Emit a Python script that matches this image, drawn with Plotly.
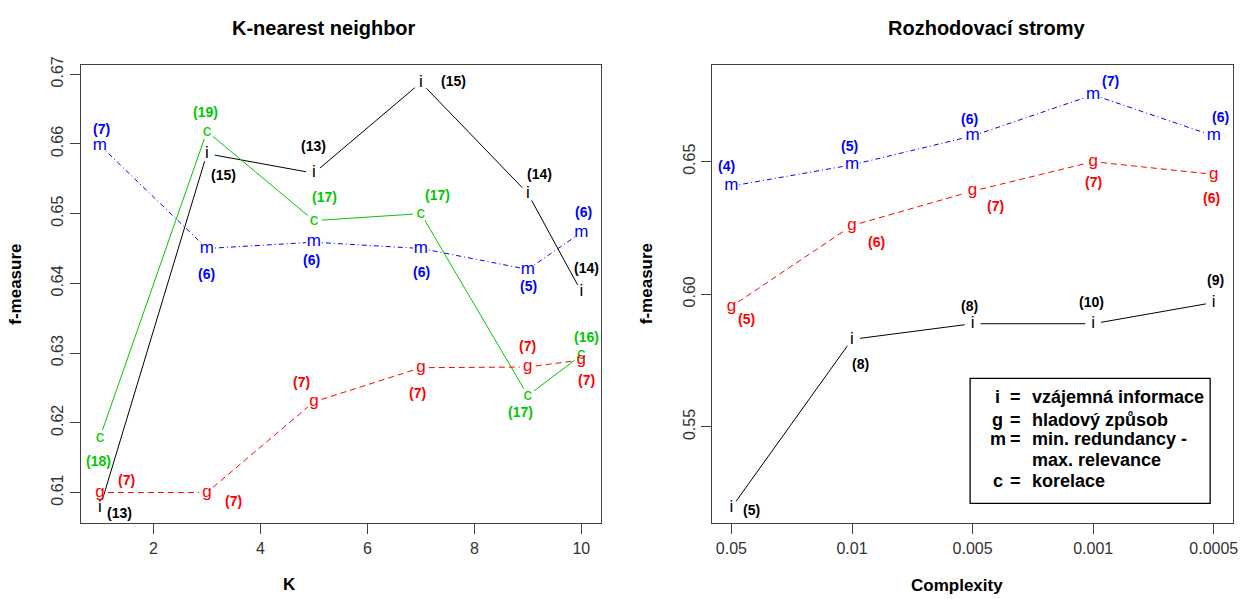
import math
import plotly.graph_objects as go

# ---------------- data ----------------
k_values = [1, 3, 5, 7, 9, 10]
knn_i = [0.6078, 0.6586, 0.6558, 0.6688, 0.6529, 0.6388]
knn_g = [0.6100, 0.6100, 0.6230, 0.6279, 0.6280, 0.6290]
knn_m = [0.6598, 0.6450, 0.6459, 0.6450, 0.6420, 0.6473]
knn_c = [0.6179, 0.6618, 0.6490, 0.6500, 0.6239, 0.6297]
knn_i_n = [13, 15, 13, 15, 14, 14]
knn_g_n = [7, 7, 7, 7, 7, 7]
knn_m_n = [7, 6, 6, 6, 5, 6]
knn_c_n = [18, 19, 17, 17, 17, 16]
knn_yticks = [0.61, 0.62, 0.63, 0.64, 0.65, 0.66, 0.67]
knn_xticks = [2, 4, 6, 8, 10]

complexity = ["0.05", "0.01", "0.005", "0.001", "0.0005"]
dt_pos = [1, 2, 3, 4, 5]
dt_i = [0.5195, 0.5830, 0.5889, 0.5889, 0.5969]
dt_g = [0.5954, 0.6259, 0.6389, 0.6500, 0.6452]
dt_m = [0.6408, 0.6488, 0.6597, 0.6752, 0.6597]
dt_i_n = [5, 8, 8, 10, 9]
dt_g_n = [5, 6, 7, 7, 6]
dt_m_n = [4, 5, 6, 7, 6]
dt_yticks = [0.55, 0.60, 0.65]
dt_ytext = ["0.55", "0.60", "0.65"]

legend_keys = ["i", "g", "m", "", "c"]
legend_eq = ["=", "=", "=", "", "="]
legend_texts = ["vzájemná informace", "hladový způsob", "min. redundancy -",
                "max. relevance", "korelace"]

# ---------------- label offsets (pixels: dx, dy up) ----------------
off_knn_i = [(20, -5), (17, -21), (0, 27), (33, 2), (12, 19), (5, 24)]
off_knn_c = [(-1, -24), (-1, 19), (11, 24), (17, 19), (-7, -16), (5, 18)]
off_knn_m = [(2, 16), (0, -26), (-2, -18), (1, -24), (1, -17), (2, 20)]
off_knn_g = [(27, 12), (27, -9), (-12, 20), (-3, -25), (0, 21), (5, -20)]
off_dt_m = [(-5, 20), (-3, 19), (-3, 17), (17, 14), (7, 19)]
off_dt_g = [(15, -13), (24, -16), (23, -15), (0, -20), (-2, -24)]
off_dt_i = [(20, -2), (8, -25), (-3, 18), (-2, 22), (2, 23)]

# ---------------- layout geometry ----------------
W, H = 1251, 599
LEFT = dict(px0=81, px1=603, py0=57, py1=522, xr=[0.64, 10.36], yr=[0.6056, 0.6713])
RIGHT = dict(px0=715, px1=1238, py0=57, py1=522, xr=[0.84, 5.16], yr=[0.5137, 0.6864])

BLACK, RED, BLUE, GREEN = "#000000", "#FF0000", "#0000FF", "#00C800"
SANS = "Liberation Sans, Arial, sans-serif"
FRAME = "#404040"


def gapped(xs, ys, panel, gap=8):
    sx = (panel["px1"] - panel["px0"]) / (panel["xr"][1] - panel["xr"][0])
    sy = (panel["py1"] - panel["py0"]) / (panel["yr"][1] - panel["yr"][0])
    ox, oy = [], []
    for (xa, ya), (xb, yb) in zip(zip(xs, ys), zip(xs[1:], ys[1:])):
        L = math.hypot((xb - xa) * sx, (yb - ya) * sy)
        if L <= 2 * gap:
            continue
        f = gap / L
        ox += [xa + (xb - xa) * f, xb - (xb - xa) * f, None]
        oy += [ya + (yb - ya) * f, yb - (yb - ya) * f, None]
    return ox, oy


fig = go.Figure()
annotations = []


def add_series(xs, ys, counts, offs, letter, color, dash, panel, xa, ya):
    gx, gy = gapped(xs, ys, panel)
    fig.add_trace(go.Scatter(x=gx, y=gy, mode="lines", xaxis=xa, yaxis=ya,
                             line=dict(color=color, width=1, dash=dash),
                             showlegend=False, hoverinfo="skip"))
    fig.add_trace(go.Scatter(x=xs, y=ys, mode="text", xaxis=xa, yaxis=ya,
                             text=[letter] * len(xs), textposition="middle center",
                             textfont=dict(family=SANS, size=17, color=color),
                             showlegend=False, hoverinfo="skip"))
    xref = "x" if xa == "x" else "x2"
    yref = "y" if ya == "y" else "y2"
    for x, y, n, (dx, dy) in zip(xs, ys, counts, offs):
        annotations.append(dict(x=x, y=y, xref=xref, yref=yref, text="<b>(%d)</b>" % n,
                                showarrow=False, xshift=dx, yshift=dy,
                                xanchor="center", yanchor="middle",
                                font=dict(family=SANS, size=14, color=color)))


add_series(k_values, knn_i, knn_i_n, off_knn_i, "i", BLACK, "solid", LEFT, "x", "y")
add_series(k_values, knn_c, knn_c_n, off_knn_c, "c", GREEN, "solid", LEFT, "x", "y")
add_series(k_values, knn_m, knn_m_n, off_knn_m, "m", BLUE, "1px,3px,5px,3px", LEFT, "x", "y")
add_series(k_values, knn_g, knn_g_n, off_knn_g, "g", RED, "6px,4px", LEFT, "x", "y")

add_series(dt_pos, dt_m, dt_m_n, off_dt_m, "m", BLUE, "1px,3px,5px,3px", RIGHT, "x2", "y2")
add_series(dt_pos, dt_g, dt_g_n, off_dt_g, "g", RED, "6px,4px", RIGHT, "x2", "y2")
add_series(dt_pos, dt_i, dt_i_n, off_dt_i, "i", BLACK, "solid", RIGHT, "x2", "y2")


def dom_x(p):
    return [p["px0"] / W, p["px1"] / W]


def dom_y(p):
    return [1 - p["py1"] / H, 1 - p["py0"] / H]


axis_common = dict(showgrid=False, zeroline=False, showline=True, mirror=True,
                   linecolor=FRAME, linewidth=1.3, ticks="outside", ticklen=10,
                   tickcolor=FRAME, tickwidth=1.3,
                   tickfont=dict(family=SANS, size=16, color="#333333"))

fig.update_layout(
    width=W, height=H, margin=dict(l=0, r=0, t=0, b=0),
    paper_bgcolor="white", plot_bgcolor="white", showlegend=False,
    xaxis=dict(domain=dom_x(LEFT), range=LEFT["xr"], tickvals=knn_xticks,
               anchor="y", **axis_common),
    yaxis=dict(domain=dom_y(LEFT), range=LEFT["yr"], tickvals=knn_yticks,
               tickformat=".2f", tickangle=-90, anchor="x", **axis_common),
    xaxis2=dict(domain=dom_x(RIGHT), range=RIGHT["xr"], tickvals=dt_pos,
                ticktext=complexity, anchor="y2", **axis_common),
    yaxis2=dict(domain=dom_y(RIGHT), range=RIGHT["yr"], tickvals=dt_yticks,
                ticktext=dt_ytext, tickangle=-90, anchor="x2", **axis_common),
)


def paper_text(px, py, txt, size, angle=0, xanchor="center"):
    annotations.append(dict(x=px / W, y=1 - py / H, xref="paper", yref="paper",
                            text=txt, showarrow=False, textangle=angle,
                            xanchor=xanchor, yanchor="middle",
                            font=dict(family=SANS, size=size, color="black")))


# titles
paper_text(325, 19, "<b>K-nearest neighbor</b>", 20)
paper_text(991, 19, "<b>Rozhodovací stromy</b>", 20)
# axis titles
paper_text(291, 584, "<b>K</b>", 17)
paper_text(961, 585, "<b>Complexity</b>", 17)
paper_text(16, 279, "<b>f-measure</b>", 17, angle=-90)
paper_text(649, 279, "<b>f-measure</b>", 17, angle=-90)

# legend box
fig.add_shape(type="rect", xref="paper", yref="paper",
              x0=974 / W, x1=1215 / W, y0=1 - 502 / H, y1=1 - 375 / H,
              line=dict(color="black", width=1.3), fillcolor="white", layer="above")
legend_y = [394, 417, 437, 458, 479]
for key, eq, txt, ly in zip(legend_keys, legend_eq, legend_texts, legend_y):
    if key:
        paper_text(1002, ly, "<b>%s</b>" % key, 18)
        paper_text(1020, ly, "<b>%s</b>" % eq, 18)
    paper_text(1034, ly, "<b>%s</b>" % txt, 18, xanchor="left")

fig.update_layout(annotations=annotations)
fig.write_html(
    "out.html",
    config={"displayModeBar": False},
    post_script="document.body.style.margin='0';document.body.style.overflow='hidden';",
)
